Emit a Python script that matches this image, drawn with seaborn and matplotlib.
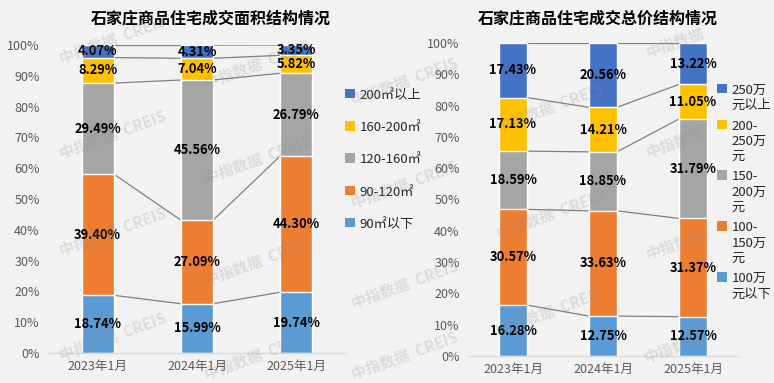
import numpy as np
import pandas as pd
import seaborn as sns
import matplotlib.pyplot as plt
from matplotlib.patches import Patch

# =============================================================================
# Data
# =============================================================================

periods = ['2023年1月', '2024年1月', '2025年1月']

# area structure (bottom -> top)
area_labels = ['90㎡以下', '90-120㎡', '120-160㎡', '160-200㎡', '200㎡以上']
area_lt90 = [18.74, 15.99, 19.74]
area_90_120 = [39.40, 27.09, 44.30]
area_120_160 = [29.49, 45.56, 26.79]
area_160_200 = [8.29, 7.04, 5.82]
area_gt200 = [4.07, 4.31, 3.35]

# total price structure (bottom -> top)
price_labels = ['100万\n元以下', '100-\n150万\n元', '150-\n200万\n元', '200-\n250万\n元', '250万\n元以上']
price_lt100 = [16.28, 12.75, 12.57]
price_100_150 = [30.57, 33.63, 31.37]
price_150_200 = [18.59, 18.85, 31.79]
price_200_250 = [17.13, 14.21, 11.05]
price_gt250 = [17.43, 20.56, 13.22]

colors = ['#5B9BD5', '#ED7D31', '#A5A5A5', '#FFC000', '#4472C4']
bg = '#F2F2F2'

sns.set_theme(style='white')
plt.rcParams['font.family'] = ['Noto Sans CJK SC', 'DejaVu Sans']

fig = plt.figure(figsize=(7.74, 3.83), dpi=100, facecolor=bg)


def stacked_panel(ax, series, labels, width, title, title_x,
                  legend_anchor, legend_spacing):
    vals = np.array(series)
    cum = vals.cumsum(axis=0)
    df = pd.DataFrame({'period': periods})

    # draw cumulative bars from the top series down (overplot stacking)
    for k in range(len(series) - 1, -1, -1):
        df['cum'] = cum[k]
        sns.barplot(data=df, x='period', y='cum', color=colors[k],
                    saturation=1, width=width, ax=ax, zorder=2)

    # segment labels
    for k in range(len(series)):
        for i in range(len(periods)):
            v = vals[k][i]
            ax.text(i, cum[k][i] - v / 2, f'{v:.2f}%', ha='center', va='center',
                    fontsize=9.3, fontweight='bold', color='black', zorder=4)

    # series lines between bars
    for k in range(len(series)):
        for i in range(len(periods) - 1):
            ax.plot([i + width / 2, i + 1 - width / 2], [cum[k][i], cum[k][i + 1]],
                    color='#808080', lw=0.9, zorder=1)

    ax.set_facecolor(bg)
    ax.set_xlim(-0.5, 2.5)
    ax.set_ylim(0, 100)
    ax.set_yticks(range(0, 101, 10))
    ax.set_yticklabels([f'{t}%' for t in range(0, 101, 10)])
    ax.set_xlabel('')
    ax.set_ylabel('')
    ax.tick_params(axis='both', length=0, labelsize=9, labelcolor='#595959')
    ax.tick_params(axis='y', pad=6)
    ax.tick_params(axis='x', pad=5)
    for s in ['top', 'right', 'left']:
        ax.spines[s].set_visible(False)
    ax.spines['bottom'].set_color('#D9D9D9')
    ax.spines['bottom'].set_linewidth(1)

    fig.text(title_x, 0.952, title, ha='center', va='center',
             fontsize=11.5, fontweight='bold', color='black')

    handles = [Patch(facecolor=colors[k], edgecolor='none', label=labels[k])
               for k in range(len(series) - 1, -1, -1)]
    leg = fig.legend(handles=handles, loc='center left', bbox_to_anchor=legend_anchor,
                     bbox_transform=fig.transFigure, frameon=False, fontsize=9.5,
                     handlelength=0.7, handleheight=0.7, handletextpad=0.4,
                     labelspacing=legend_spacing, borderaxespad=0)
    # put the marker next to the first line of wrapped labels
    for col in leg._legend_handle_box.get_children():
        for item in col.get_children():
            item.align = 'top'
    return leg


ax1 = fig.add_axes([48 / 774, 1 - 353 / 383, 298 / 774, 308 / 383])
stacked_panel(ax1, [area_lt90, area_90_120, area_120_160, area_160_200, area_gt200],
              area_labels, 0.32, '石家庄商品住宅成交面积结构情况', 211 / 774,
              (340 / 774, 1 - 160 / 383), 1.45)

ax2 = fig.add_axes([468 / 774, 1 - 356 / 383, 270 / 774, 313 / 383])
stacked_panel(ax2, [price_lt100, price_100_150, price_150_200, price_200_250, price_gt250],
              price_labels, 0.31, '石家庄商品住宅成交总价结构情况', 598 / 774,
              (712 / 774, 1 - 192 / 383), 0.6)

# watermarks
marks_full = [(113, 40), (113, 135), (113, 232), (113, 337),
              (258, 65), (258, 160), (258, 262), (258, 356),
              (405, 82), (405, 185), (405, 285), (405, 356),
              (550, 108), (550, 215), (550, 312)]
marks_short = [(675, 43), (675, 143), (675, 245), (673, 348)]
for x, y in marks_full:
    fig.text(x / 774, 1 - y / 383, '中指数据  CREIS', rotation=20, ha='center', va='center',
             fontsize=11, fontweight='bold', color='#909090', alpha=0.22, zorder=10)
for x, y in marks_short:
    fig.text(x / 774, 1 - y / 383, '中指数据', rotation=20, ha='center', va='center',
             fontsize=11, fontweight='bold', color='#909090', alpha=0.22, zorder=10)

fig.savefig('out.png', dpi=100, facecolor=bg)
